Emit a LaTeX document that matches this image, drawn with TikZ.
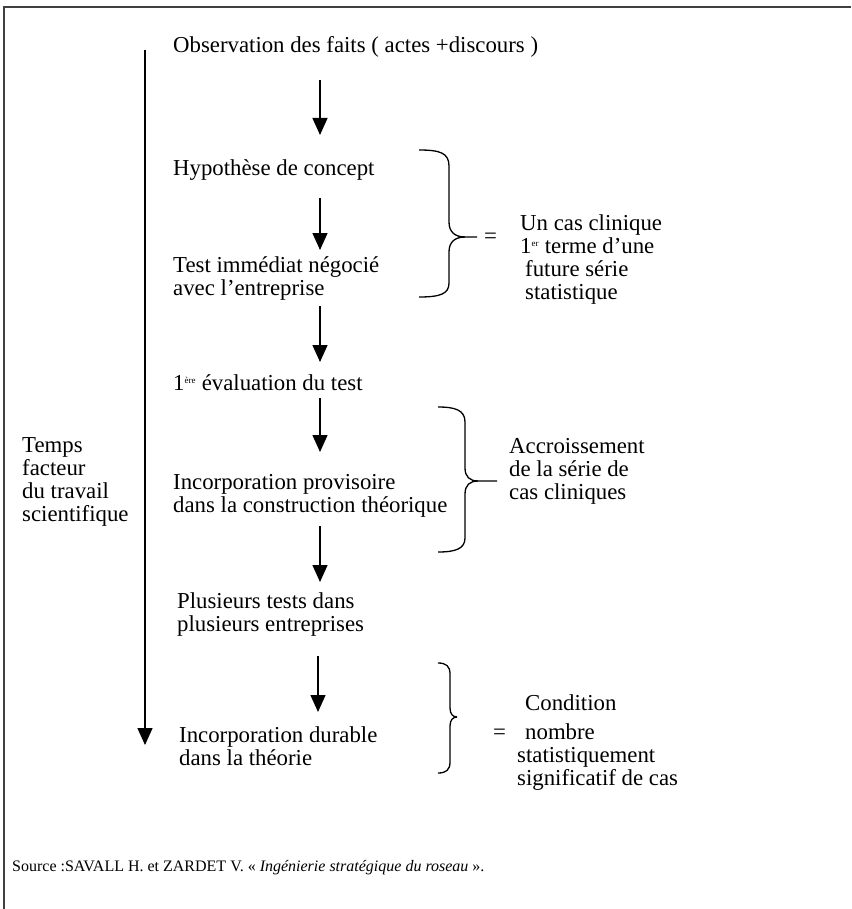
\documentclass[tikz,border=0pt]{standalone}
\usepackage{fontspec}
\setmainfont{Liberation Serif}
\usetikzlibrary{arrows.meta}

\tikzset{
  txt/.style={anchor=west, align=left, inner sep=0pt,
    font=\fontsize{22.8}{23}\selectfont},
  srctxt/.style={anchor=west, inner sep=0pt,
    font=\fontsize{16}{19}\selectfont},
  flow/.style={draw, line width=1.4pt,
    -{Triangle[width=15pt,length=17pt]}},
  curly/.style={draw, line width=1.3pt},
  frame/.style={draw=black!75, line width=2pt}
}
\newcommand{\sups}[1]{\textsuperscript{\fontsize{9}{9}\selectfont #1}}

\begin{document}
\begin{tikzpicture}[x=1pt,y=-1pt]
\useasboundingbox (0,0) rectangle (851,909);

% open frame: top and left edges
\draw[frame] (851,7) -- (4,7) -- (4,909);

% main sequence of steps
\node[txt] (obs)  at (173,47)  {Observation des faits ( actes +discours )};
\node[txt] (hyp)  at (173,170) {Hypothèse de concept};
\node[txt] (test) at (173,278) {Test immédiat négocié\\avec l’entreprise};
\node[txt] (eval) at (173,383) {1\sups{ère} évaluation du test};
\node[txt] (incp) at (173,496) {Incorporation provisoire\\dans la construction théorique};
\node[txt] (plus) at (177,615) {Plusieurs tests dans\\plusieurs entreprises};
\node[txt] (incd) at (179,746) {Incorporation durable\\dans la théorie};

% time axis label
\node[txt] (temps) at (22,482) {Temps\\facteur\\du travail\\scientifique};

% right-hand comments
\node[txt] (cas) at (520,260) {Un cas clinique\\1\sups{er} terme d’une\\\hspace*{5pt}future série\\\hspace*{5pt}statistique};
\node[txt] (acc) at (509,471) {Accroissement\\de la série de\\cas cliniques};
\node[txt] (cond) at (517,743) {\hspace*{8pt}Condition\\[6pt]\hspace*{8pt}nombre\\statistiquement\\significatif de cas};
\node[txt] (eq1) at (484,238) {=};
\node[txt] (eq3) at (493,734) {=};

% source
\node[srctxt] (src) at (12,868) {Source :SAVALL H. et ZARDET V. « \textit{Ingénierie stratégique du roseau} ».};

% arrow end points
\coordinate (t0) at (145,50);   \coordinate (t1) at (145,745);
\coordinate (a1s) at (320,80);  \coordinate (a1e) at (320,135);
\coordinate (a2s) at (320,198); \coordinate (a2e) at (320,250);
\coordinate (a3s) at (320,306); \coordinate (a3e) at (320,362);
\coordinate (a4s) at (320,398); \coordinate (a4e) at (320,452);
\coordinate (a5s) at (320,526); \coordinate (a5e) at (320,582);
\coordinate (a6s) at (318,656); \coordinate (a6e) at (318,712);

\draw[flow] (t0) -- (t1);
\draw[flow] (a1s) -- (a1e);
\draw[flow] (a2s) -- (a2e);
\draw[flow] (a3s) -- (a3e);
\draw[flow] (a4s) -- (a4e);
\draw[flow] (a5s) -- (a5e);
\draw[flow] (a6s) -- (a6e);

% braces
\draw[curly] (419,150) .. controls (440,150) and (449,153) .. (449,166)
  -- (449,222) .. controls (449,232) and (455,237) .. (465,237) -- (477,237);
\draw[curly] (465,237) .. controls (455,237) and (449,242) .. (449,252)
  -- (449,283) .. controls (449,294) and (440,297) .. (419,297);

\draw[curly] (438,407) .. controls (455,407) and (465,410) .. (465,422)
  -- (465,468) .. controls (465,477) and (470,481) .. (478,481) -- (497,481);
\draw[curly] (478,481) .. controls (470,481) and (465,485) .. (465,494)
  -- (465,538) .. controls (465,549) and (455,552) .. (438,552);

\draw[curly] (438,663) .. controls (446,663) and (450,666) .. (450,674)
  -- (450,708) .. controls (450,714) and (453,717) .. (457,717);
\draw[curly] (457,717) .. controls (453,717) and (450,720) .. (450,726)
  -- (450,762) .. controls (450,770) and (446,773) .. (438,773);
\end{tikzpicture}
\end{document}
